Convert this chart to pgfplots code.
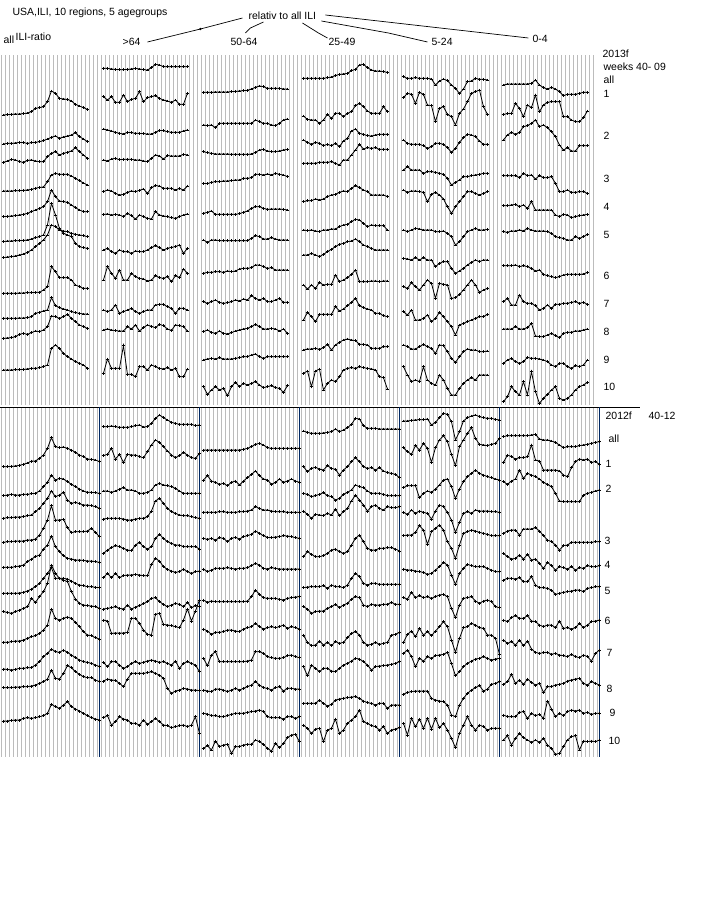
\documentclass[border=0pt]{standalone}
\usepackage{pgfplots}
\pgfplotsset{compat=1.18}
\usepackage{fontspec}
\setmainfont{Liberation Sans}
\definecolor{gridc}{RGB}{188,188,188}
\definecolor{sepc}{RGB}{0,40,100}
\newcommand\fs{\fontsize{10.5}{12}\selectfont}
\pgfplotsset{ser/.style={black, line width=0.8pt, mark=+, mark size=1.5pt, mark options={solid,line width=0.8pt}}}
\newcommand\ser[3]{\addplot[ser] table[header=false,row sep=\\,x expr={#1+4*\coordindex},y expr={#2+\thisrowno{0}/3}]{#3};}
\newcommand\lab[3]{\node[anchor=base west,inner sep=0pt,font=\fs] at (axis cs:#1,#2) {#3};}
\begin{document}
\begin{tikzpicture}
\begin{axis}[scale only axis, width=700bp, height=900bp, xmin=0, xmax=700, ymin=0, ymax=900, y dir=reverse, hide axis, clip=false]
\path (axis cs:0,0) rectangle (axis cs:700,900);
% grids
\pgfplotsinvokeforeach{1,5,...,593}{\addplot[gridc, line width=0.9pt] coordinates {(#1,55) (#1,405)};}
\pgfplotsinvokeforeach{1,5,...,597}{\addplot[gridc, line width=0.9pt] coordinates {(#1,408) (#1,757)};}
\addplot[black, line width=0.9pt] coordinates {(0,407) (640,407)};
\pgfplotsinvokeforeach{99,199,299,399,499,599}{\addplot[sepc, line width=0.9pt] coordinates {(#1,407) (#1,757)};}
% header
\lab{12}{15}{USA,ILI, 10 regions, 5 agegroups}
\lab{248}{19.3}{relativ to all ILI}
\lab{3}{43}{all}
\lab{15}{40}{ILI-ratio}
\lab{122}{45}{>64}
\lab{230}{45}{50-64}
\lab{328}{45}{25-49}
\lab{431}{45}{5-24}
\lab{532}{42.7}{0-4}
\addplot[black, line width=0.7pt, mark=*, mark size=0.8pt, mark indices={2}] coordinates {(242,18) (200,29) (147,42)};
\addplot[black, line width=0.7pt] coordinates {(263,22) (250,28) (245,33)};
\addplot[black, line width=0.7pt] coordinates {(302,23) (318,33) (327,38)};
\addplot[black, line width=0.7pt] coordinates {(325,15) (528,38)};
\addplot[black, line width=0.7pt] coordinates {(321,21) (388,33) (427,42)};
% right labels top
\lab{602}{57}{2013f}
\lab{603}{70.7}{weeks 40- 09}
\lab{603}{83}{all}
\lab{603}{97}{1}
\lab{603}{139}{2}
\lab{603}{182}{3}
\lab{603}{210}{4}
\lab{603}{238}{5}
\lab{603}{279}{6}
\lab{603}{307}{7}
\lab{603}{335}{8}
\lab{603}{363}{9}
\lab{603}{390}{10}
% right labels bottom
\lab{605}{419.3}{2012f}
\lab{648}{419.3}{40-12}
\lab{608}{442.7}{all}
\lab{605}{467}{1}
\lab{605}{492.7}{2}
\lab{604}{544}{3}
\lab{604}{568}{4}
\lab{604}{594}{5}
\lab{604}{624}{6}
\lab{606}{656}{7}
\lab{606}{692}{8}
\lab{609}{716}{9}
\lab{608}{744}{10}
% ================= TOP 2013f (offset 55) =================
% col all
\ser{3}{55}{180\\179\\178\\177\\177\\176\\174\\170\\160\\158\\155\\140\\108\\115\\130\\132\\133\\138\\148\\153\\158\\163\\}
\ser{3}{55}{267\\265\\265\\264\\262\\263\\265\\263\\262\\260\\257\\252\\247\\243\\250\\246\\243\\240\\233\\245\\252\\260\\}
\ser{3}{55}{322\\318\\313\\315\\320\\322\\316\\315\\318\\320\\320\\305\\295\\290\\300\\295\\292\\288\\278\\290\\300\\310\\}
\ser{3}{55}{408\\408\\408\\407\\407\\406\\405\\403\\400\\397\\396\\380\\360\\355\\358\\358\\358\\363\\370\\377\\384\\390\\}
\ser{3}{55}{485\\484\\483\\482\\480\\478\\475\\470\\465\\460\\455\\440\\405\\425\\438\\440\\442\\450\\458\\465\\470\\470\\}
\ser{3}{55}{560\\558\\558\\557\\557\\556\\555\\552\\548\\545\\540\\510\\445\\480\\520\\535\\540\\545\\565\\575\\578\\580\\}
\ser{3}{55}{608\\606\\605\\603\\600\\597\\592\\585\\575\\565\\555\\540\\510\\515\\525\\528\\530\\535\\538\\540\\542\\545\\}
\ser{3}{55}{715\\715\\715\\715\\714\\714\\713\\713\\712\\712\\705\\695\\635\\650\\668\\668\\668\\675\\690\\695\\700\\700\\}
\ser{3}{55}{790\\790\\790\\790\\789\\789\\788\\785\\775\\772\\768\\765\\728\\752\\758\\762\\765\\770\\773\\775\\777\\777\\}
\ser{3}{55}{850\\849\\848\\845\\838\\835\\838\\833\\828\\830\\825\\815\\783\\785\\790\\785\\778\\790\\800\\810\\815\\820\\}
\ser{3}{55}{945\\945\\945\\944\\944\\943\\942\\940\\940\\938\\935\\930\\880\\870\\880\\895\\905\\912\\920\\925\\930\\940\\}
% col >64
\ser{103}{55}{40\\40\\42\\43\\44\\44\\43\\42\\40\\42\\44\\45\\38\\28\\30\\35\\35\\35\\35\\35\\35\\35\\}
\ser{103}{55}{125\\135\\125\\142\\142\\120\\140\\133\\130\\110\\140\\128\\125\\122\\130\\135\\138\\142\\135\\148\\148\\115\\}
\ser{103}{55}{222\\225\\228\\232\\235\\237\\232\\233\\235\\235\\236\\237\\237\\232\\226\\227\\230\\232\\232\\232\\228\\225\\}
\ser{103}{55}{315\\318\\312\\310\\314\\313\\313\\313\\315\\315\\318\\320\\310\\300\\303\\312\\302\\303\\303\\303\\298\\300\\}
\ser{103}{55}{410\\405\\408\\415\\420\\418\\412\\408\\410\\406\\402\\415\\398\\392\\393\\400\\400\\400\\405\\400\\405\\393\\}
\ser{103}{55}{478\\477\\480\\478\\480\\485\\475\\482\\492\\480\\485\\490\\492\\470\\480\\483\\485\\488\\490\\485\\480\\477\\}
\ser{103}{55}{585\\580\\590\\595\\585\\590\\590\\595\\588\\590\\590\\585\\578\\572\\578\\585\\580\\577\\575\\570\\595\\580\\}
\ser{103}{55}{675\\635\\655\\670\\645\\675\\675\\655\\665\\670\\672\\678\\675\\662\\668\\670\\665\\680\\662\\668\\642\\655\\}
\ser{103}{55}{765\\770\\765\\750\\775\\770\\765\\760\\770\\775\\770\\765\\765\\750\\748\\748\\755\\760\\775\\760\\760\\765\\}
\ser{103}{55}{825\\822\\825\\827\\828\\828\\815\\822\\810\\828\\818\\810\\814\\818\\808\\812\\822\\826\\810\\812\\815\\828\\}
\ser{103}{55}{955\\912\\940\\940\\940\\872\\958\\958\\965\\935\\935\\945\\930\\935\\940\\942\\938\\945\\940\\965\\965\\942\\}
% col 50-64
\ser{203}{55}{112\\112\\112\\111\\111\\111\\111\\110\\109\\108\\107\\106\\102\\97\\93\\95\\100\\100\\100\\100\\102\\102\\}
\ser{203}{55}{210\\212\\210\\218\\205\\205\\205\\205\\205\\205\\205\\205\\205\\195\\200\\205\\205\\210\\212\\205\\195\\192\\}
\ser{203}{55}{290\\293\\295\\297\\297\\297\\297\\298\\298\\298\\298\\298\\297\\292\\285\\283\\288\\290\\290\\288\\285\\283\\}
\ser{203}{55}{385\\386\\382\\380\\380\\378\\378\\377\\375\\375\\370\\370\\368\\358\\358\\360\\357\\360\\355\\358\\360\\365\\}
\ser{203}{55}{475\\472\\468\\478\\478\\478\\478\\478\\478\\476\\472\\468\\460\\455\\455\\460\\463\\462\\462\\462\\463\\465\\}
\ser{203}{55}{555\\562\\555\\555\\557\\557\\557\\557\\557\\557\\557\\557\\550\\542\\545\\552\\552\\548\\552\\555\\555\\555\\}
\ser{203}{55}{655\\652\\652\\650\\650\\652\\648\\650\\648\\642\\640\\640\\638\\630\\630\\635\\640\\638\\645\\645\\645\\645\\}
\ser{203}{55}{740\\745\\740\\735\\742\\745\\743\\740\\735\\738\\732\\735\\722\\730\\735\\730\\740\\740\\735\\730\\742\\742\\}
\ser{203}{55}{830\\825\\832\\835\\828\\835\\837\\833\\828\\825\\822\\820\\815\\808\\815\\822\\822\\820\\822\\828\\822\\835\\}
\ser{203}{55}{915\\912\\910\\912\\908\\912\\912\\912\\910\\908\\905\\905\\900\\897\\905\\910\\905\\905\\905\\905\\905\\905\\}
\ser{203}{55}{995\\1018\\1005\\995\\1005\\1000\\1022\\995\\982\\995\\985\\990\\985\\980\\990\\998\\995\\992\\998\\1000\\1012\\992\\}
% col 25-49
\ser{303}{55}{70\\70\\70\\70\\70\\70\\68\\66\\62\\58\\57\\55\\47\\43\\30\\28\\38\\45\\48\\48\\50\\52\\}
\ser{303}{55}{183\\193\\195\\195\\205\\195\\178\\190\\175\\175\\185\\175\\170\\152\\145\\155\\168\\175\\175\\175\\155\\170\\}
\ser{303}{55}{255\\262\\268\\262\\265\\272\\268\\272\\265\\275\\258\\250\\228\\222\\235\\238\\242\\243\\240\\238\\238\\238\\}
\ser{303}{55}{325\\325\\325\\325\\322\\322\\322\\320\\325\\330\\315\\315\\300\\285\\268\\282\\278\\280\\278\\283\\283\\283\\}
\ser{303}{55}{440\\437\\437\\432\\435\\432\\425\\420\\418\\412\\408\\410\\400\\392\\398\\405\\410\\420\\420\\420\\420\\425\\}
\ser{303}{55}{525\\527\\525\\528\\530\\525\\525\\522\\522\\515\\510\\508\\500\\493\\495\\505\\515\\510\\512\\512\\512\\525\\}
\ser{303}{55}{600\\600\\595\\600\\605\\598\\590\\583\\575\\568\\565\\560\\558\\552\\560\\570\\575\\580\\585\\585\\585\\585\\}
\ser{303}{55}{690\\702\\690\\700\\682\\690\\688\\688\\660\\680\\675\\668\\658\\645\\680\\680\\680\\678\\678\\680\\678\\678\\}
\ser{303}{55}{795\\772\\785\\800\\778\\778\\778\\778\\755\\768\\762\\752\\742\\730\\752\\758\\762\\765\\775\\775\\782\\785\\}
\ser{303}{55}{885\\882\\882\\880\\883\\878\\868\\885\\870\\862\\855\\852\\855\\857\\868\\868\\870\\880\\880\\880\\875\\875\\}
\ser{303}{55}{955\\948\\995\\948\\942\\1005\\985\\975\\980\\965\\945\\940\\938\\940\\935\\938\\940\\942\\945\\965\\968\\1002\\}
% col 5-24
\ser{403}{55}{65\\70\\70\\68\\70\\70\\70\\72\\90\\78\\72\\77\\90\\100\\115\\102\\80\\78\\70\\73\\73\\75\\}
\ser{403}{55}{128\\115\\118\\145\\112\\118\\150\\152\\200\\160\\155\\178\\185\\210\\175\\162\\140\\115\\110\\105\\155\\178\\}
\ser{403}{55}{255\\265\\268\\268\\268\\272\\280\\275\\265\\265\\268\\278\\292\\280\\262\\248\\238\\240\\245\\258\\268\\268\\}
\ser{403}{55}{345\\335\\345\\345\\345\\355\\350\\350\\352\\355\\358\\370\\390\\382\\375\\365\\365\\362\\360\\358\\355\\355\\}
\ser{403}{55}{405\\412\\408\\408\\410\\412\\440\\418\\412\\420\\432\\455\\475\\455\\440\\425\\410\\410\\415\\420\\415\\410\\}
\ser{403}{55}{525\\530\\525\\520\\522\\525\\525\\525\\530\\530\\528\\535\\545\\570\\560\\545\\530\\525\\520\\525\\525\\523\\}
\ser{403}{55}{610\\612\\615\\608\\615\\608\\615\\615\\635\\625\\620\\620\\640\\655\\648\\640\\630\\622\\615\\620\\615\\615\\}
\ser{403}{55}{695\\700\\683\\695\\705\\690\\675\\685\\730\\685\\688\\690\\730\\728\\718\\705\\690\\675\\690\\712\\705\\700\\}
\ser{403}{55}{770\\780\\765\\795\\795\\790\\780\\800\\790\\772\\785\\800\\815\\840\\810\\805\\800\\795\\790\\785\\785\\778\\}
\ser{403}{55}{870\\875\\882\\882\\875\\868\\875\\880\\895\\870\\872\\890\\910\\922\\905\\890\\882\\885\\885\\890\\890\\888\\}
\ser{403}{55}{935\\960\\980\\975\\980\\935\\975\\985\\990\\960\\975\\1000\\1020\\1020\\1000\\985\\975\\968\\975\\960\\960\\960\\}
% col 0-4
\ser{503}{55}{90\\87\\87\\87\\87\\87\\87\\85\\75\\90\\98\\102\\97\\102\\110\\122\\118\\118\\118\\115\\112\\112\\}
\ser{503}{55}{178\\176\\175\\145\\160\\185\\150\\158\\120\\170\\150\\142\\140\\140\\140\\185\\185\\195\\200\\200\\188\\168\\}
\ser{503}{55}{255\\240\\232\\238\\232\\215\\212\\205\\195\\215\\210\\218\\230\\245\\270\\285\\278\\288\\288\\272\\272\\272\\}
\ser{503}{55}{362\\362\\362\\362\\368\\355\\362\\360\\372\\362\\368\\368\\365\\385\\410\\410\\405\\412\\412\\410\\410\\415\\}
\ser{503}{55}{452\\452\\450\\448\\455\\450\\460\\440\\465\\465\\465\\465\\465\\480\\485\\478\\480\\488\\485\\482\\480\\478\\}
\ser{503}{55}{530\\532\\528\\528\\525\\528\\520\\525\\528\\528\\528\\530\\535\\545\\548\\550\\555\\555\\545\\550\\545\\538\\}
\ser{503}{55}{632\\632\\632\\630\\635\\632\\635\\640\\648\\645\\658\\662\\665\\668\\665\\660\\658\\658\\658\\658\\657\\652\\}
\ser{503}{55}{740\\730\\750\\750\\720\\740\\745\\745\\752\\765\\760\\750\\760\\748\\748\\745\\745\\742\\740\\745\\742\\748\\}
\ser{503}{55}{822\\822\\822\\815\\822\\822\\818\\805\\843\\845\\845\\840\\835\\842\\848\\835\\832\\832\\828\\828\\825\\822\\}
\ser{503}{55}{925\\915\\910\\920\\925\\920\\907\\910\\910\\912\\915\\920\\930\\935\\925\\925\\935\\940\\932\\935\\930\\915\\}
\ser{503}{55}{1040\\1025\\995\\1010\\1020\\980\\1020\\950\\1010\\1045\\1030\\1018\\1005\\995\\1030\\1035\\1030\\1020\\1005\\995\\990\\982\\}
% ================= BOTTOM 2012f (offset 405) =================
% col all
\ser{3}{405}{185\\185\\184\\183\\181\\178\\174\\168\\168\\160\\150\\130\\98\\125\\128\\126\\130\\135\\142\\150\\155\\162\\163\\165\\170\\}
\ser{3}{405}{272\\270\\268\\270\\270\\268\\268\\266\\265\\258\\245\\232\\210\\225\\220\\222\\230\\238\\245\\252\\258\\262\\262\\263\\265\\}
\ser{3}{405}{340\\338\\338\\336\\336\\335\\332\\330\\320\\310\\295\\280\\258\\275\\270\\262\\285\\295\\292\\296\\300\\300\\302\\305\\310\\}
\ser{3}{405}{412\\410\\410\\408\\408\\408\\405\\405\\402\\390\\370\\345\\302\\345\\345\\343\\368\\383\\380\\380\\380\\378\\370\\382\\395\\}
\ser{3}{405}{487\\487\\487\\485\\483\\480\\470\\462\\455\\450\\432\\420\\393\\425\\440\\452\\460\\462\\465\\465\\466\\468\\468\\470\\472\\}
\ser{3}{405}{565\\565\\565\\565\\564\\562\\558\\552\\545\\535\\520\\505\\488\\520\\520\\520\\522\\528\\535\\540\\542\\545\\545\\547\\548\\}
\ser{3}{405}{620\\622\\625\\620\\615\\610\\605\\580\\592\\575\\560\\535\\480\\505\\520\\525\\530\\560\\582\\595\\600\\602\\603\\605\\610\\}
\ser{3}{405}{712\\712\\710\\708\\708\\705\\700\\695\\692\\685\\675\\660\\612\\640\\645\\640\\636\\640\\652\\665\\680\\690\\692\\698\\702\\}
\ser{3}{405}{792\\793\\795\\793\\790\\790\\788\\788\\780\\770\\755\\745\\732\\740\\742\\735\\742\\750\\758\\765\\770\\772\\775\\780\\785\\}
\ser{3}{405}{848\\848\\848\\846\\846\\845\\845\\843\\840\\835\\830\\822\\795\\820\\822\\805\\782\\788\\800\\808\\815\\818\\818\\825\\830\\}
\ser{3}{405}{948\\948\\946\\945\\945\\940\\938\\940\\938\\935\\932\\925\\898\\905\\910\\900\\890\\905\\912\\918\\925\\932\\938\\942\\945\\}
% col >64
\ser{103}{405}{65\\65\\63\\65\\67\\67\\67\\65\\62\\60\\66\\65\\55\\40\\30\\38\\45\\52\\55\\58\\58\\58\\58\\62\\60\\}
\ser{103}{405}{152\\148\\130\\162\\148\\172\\148\\150\\150\\155\\158\\140\\120\\105\\112\\125\\138\\150\\158\\152\\142\\150\\158\\160\\145\\}
\ser{103}{405}{258\\258\\262\\258\\252\\248\\255\\255\\258\\265\\265\\262\\255\\240\\235\\240\\242\\245\\250\\258\\265\\265\\265\\265\\265\\}
\ser{103}{405}{342\\340\\340\\340\\340\\342\\345\\345\\342\\340\\340\\335\\318\\288\\280\\295\\310\\320\\325\\330\\332\\332\\335\\338\\340\\}
\ser{103}{405}{445\\435\\428\\422\\425\\430\\435\\437\\420\\412\\425\\432\\425\\400\\388\\400\\410\\415\\420\\420\\425\\425\\425\\425\\432\\}
\ser{103}{405}{518\\505\\518\\505\\518\\512\\510\\510\\508\\510\\512\\512\\478\\460\\468\\485\\493\\498\\502\\500\\492\\500\\505\\500\\498\\}
\ser{103}{405}{612\\610\\608\\605\\610\\612\\600\\612\\606\\602\\596\\590\\580\\578\\590\\598\\605\\600\\595\\598\\605\\592\\608\\602\\605\\}
\ser{103}{405}{645\\648\\685\\684\\684\\684\\682\\640\\640\\655\\675\\688\\690\\628\\625\\658\\660\\662\\665\\668\\645\\612\\648\\618\\585\\}
\ser{103}{405}{772\\785\\770\\770\\780\\790\\785\\775\\770\\775\\772\\768\\765\\768\\772\\770\\775\\780\\768\\790\\775\\770\\775\\780\\800\\}
\ser{103}{405}{828\\822\\825\\826\\835\\845\\822\\805\\805\\805\\805\\803\\800\\805\\810\\820\\850\\865\\858\\855\\850\\852\\855\\855\\857\\}
\ser{103}{405}{938\\932\\960\\950\\935\\942\\945\\955\\955\\960\\945\\958\\950\\940\\950\\960\\962\\968\\965\\962\\960\\965\\960\\935\\985\\}
% col 50-64
\ser{203}{405}{135\\135\\135\\135\\135\\135\\135\\135\\135\\135\\133\\130\\125\\118\\115\\120\\128\\130\\130\\130\\130\\130\\130\\130\\130\\}
\ser{203}{405}{225\\212\\228\\232\\238\\235\\242\\232\\228\\240\\228\\218\\208\\198\\212\\222\\225\\238\\232\\222\\232\\228\\222\\228\\232\\}
\ser{203}{405}{322\\322\\322\\322\\320\\320\\322\\322\\322\\320\\320\\318\\315\\305\\310\\315\\315\\318\\320\\320\\320\\322\\322\\322\\322\\}
\ser{203}{405}{400\\403\\400\\405\\398\\400\\410\\400\\397\\402\\395\\392\\388\\378\\385\\392\\397\\398\\396\\395\\392\\393\\395\\398\\400\\}
\ser{203}{405}{492\\500\\495\\490\\490\\490\\488\\490\\492\\490\\490\\488\\482\\475\\480\\490\\492\\488\\490\\492\\492\\492\\492\\492\\492\\}
\ser{203}{405}{585\\592\\588\\590\\590\\590\\590\\590\\590\\590\\590\\588\\575\\555\\568\\578\\580\\580\\580\\583\\585\\580\\578\\576\\575\\}
\ser{203}{405}{672\\678\\688\\682\\682\\680\\675\\675\\678\\680\\672\\668\\665\\655\\665\\672\\668\\665\\668\\665\\660\\670\\665\\668\\672\\}
\ser{203}{405}{760\\782\\750\\740\\770\\770\\770\\770\\770\\770\\770\\768\\765\\740\\740\\745\\755\\758\\760\\760\\758\\752\\750\\755\\758\\}
\ser{203}{405}{855\\858\\860\\852\\852\\855\\860\\855\\850\\855\\850\\845\\840\\830\\840\\848\\850\\855\\848\\845\\858\\850\\850\\852\\852\\}
\ser{203}{405}{925\\927\\932\\932\\935\\935\\932\\928\\925\\925\\925\\922\\920\\918\\915\\920\\935\\938\\938\\938\\942\\935\\935\\940\\935\\}
\ser{203}{405}{1030\\1022\\1035\\1008\\1025\\1020\\1018\\1045\\1025\\1025\\1020\\1018\\1018\\1005\\1010\\1018\\1030\\1038\\1015\\1028\\1015\\998\\990\\988\\1010\\}
% col 25-49
\ser{303}{405}{78\\82\\85\\85\\85\\84\\82\\80\\72\\80\\75\\68\\58\\40\\42\\62\\70\\70\\70\\72\\72\\72\\72\\72\\72\\}
\ser{303}{405}{185\\200\\190\\187\\192\\195\\182\\190\\193\\210\\195\\185\\170\\158\\170\\185\\190\\188\\195\\188\\198\\203\\205\\208\\218\\}
\ser{303}{405}{265\\268\\275\\272\\268\\263\\272\\275\\285\\280\\268\\262\\255\\240\\245\\248\\258\\265\\265\\265\\268\\272\\272\\272\\272\\}
\ser{303}{405}{318\\328\\340\\328\\330\\332\\325\\330\\312\\332\\320\\310\\288\\270\\285\\300\\318\\305\\300\\310\\315\\305\\308\\308\\305\\}
\ser{303}{405}{455\\440\\448\\455\\455\\452\\445\\435\\432\\440\\445\\440\\420\\400\\390\\410\\430\\435\\435\\430\\430\\428\\428\\432\\438\\}
\ser{303}{405}{548\\546\\545\\545\\545\\542\\550\\540\\545\\545\\548\\540\\520\\505\\515\\535\\540\\535\\535\\538\\538\\538\\538\\538\\538\\}
\ser{303}{405}{605\\612\\625\\620\\618\\618\\610\\605\\598\\608\\600\\595\\582\\575\\578\\600\\605\\598\\600\\600\\598\\598\\592\\598\\598\\}
\ser{303}{405}{690\\712\\722\\720\\708\\720\\712\\722\\710\\715\\712\\698\\685\\680\\690\\712\\720\\718\\712\\718\\715\\712\\690\\688\\682\\}
\ser{303}{405}{785\\812\\780\\790\\800\\790\\790\\798\\800\\790\\780\\775\\768\\760\\762\\770\\780\\795\\785\\783\\782\\780\\778\\775\\770\\}
\ser{303}{405}{895\\895\\895\\895\\885\\895\\903\\898\\885\\882\\880\\878\\876\\875\\880\\888\\893\\895\\900\\895\\895\\910\\900\\900\\900\\}
\ser{303}{405}{960\\970\\985\\972\\970\\1010\\975\\970\\942\\985\\975\\955\\945\\935\\915\\950\\955\\962\\965\\975\\965\\985\\975\\972\\968\\}
% col 5-24
\ser{403}{405}{48\\48\\46\\45\\44\\44\\42\\60\\52\\38\\25\\28\\50\\105\\80\\48\\38\\33\\30\\35\\38\\40\\40\\43\\45\\}
\ser{403}{405}{128\\140\\148\\122\\135\\115\\130\\172\\128\\105\\92\\110\\148\\182\\125\\105\\85\\68\\100\\118\\120\\122\\118\\115\\100\\}
\ser{403}{405}{248\\242\\242\\242\\278\\265\\258\\262\\252\\240\\225\\222\\245\\280\\252\\230\\215\\205\\195\\205\\210\\215\\218\\222\\225\\}
\ser{403}{405}{322\\328\\315\\325\\318\\322\\325\\342\\318\\300\\305\\322\\345\\382\\352\\325\\320\\325\\315\\318\\318\\318\\320\\320\\322\\}
\ser{403}{405}{392\\390\\390\\382\\362\\375\\418\\380\\370\\360\\375\\410\\430\\460\\420\\385\\380\\375\\378\\382\\385\\388\\392\\392\\392\\}
\ser{403}{405}{492\\495\\495\\498\\500\\502\\508\\505\\495\\485\\472\\480\\510\\538\\505\\490\\478\\482\\485\\485\\485\\490\\495\\500\\500\\}
\ser{403}{405}{578\\582\\562\\578\\572\\578\\575\\580\\575\\570\\568\\575\\610\\638\\600\\580\\578\\575\\588\\595\\588\\585\\590\\605\\608\\}
\ser{403}{405}{712\\688\\678\\695\\670\\690\\680\\692\\678\\665\\650\\665\\705\\742\\700\\668\\665\\655\\660\\668\\670\\690\\690\\700\\748\\}
\ser{403}{405}{745\\735\\755\\785\\760\\768\\755\\760\\752\\750\\748\\742\\775\\812\\800\\785\\775\\768\\762\\760\\755\\760\\765\\762\\760\\}
\ser{403}{405}{868\\862\\860\\858\\858\\858\\858\\880\\885\\888\\890\\900\\930\\935\\900\\880\\865\\855\\848\\842\\858\\852\\838\\835\\830\\}
\ser{403}{405}{955\\990\\940\\965\\942\\970\\940\\972\\940\\968\\955\\975\\1000\\1028\\985\\960\\935\\960\\975\\960\\965\\975\\970\\970\\970\\}
% col 0-4
\ser{503}{405}{95\\92\\92\\92\\92\\92\\92\\90\\88\\102\\105\\105\\108\\112\\120\\128\\125\\125\\125\\122\\120\\118\\115\\112\\110\\}
\ser{503}{405}{172\\150\\155\\162\\158\\158\\155\\120\\165\\168\\195\\195\\195\\195\\198\\210\\215\\188\\170\\162\\165\\162\\172\\170\\178\\}
\ser{503}{405}{230\\238\\228\\222\\195\\220\\205\\210\\215\\222\\232\\238\\245\\265\\288\\290\\290\\290\\290\\290\\270\\265\\262\\258\\255\\}
\ser{503}{405}{385\\378\\375\\375\\390\\372\\372\\372\\368\\378\\392\\405\\410\\420\\435\\422\\420\\412\\412\\412\\412\\412\\412\\410\\410\\}
\ser{503}{405}{445\\455\\462\\460\\450\\462\\448\\465\\462\\475\\490\\472\\482\\495\\485\\488\\492\\485\\495\\488\\490\\482\\485\\485\\482\\}
\ser{503}{405}{525\\520\\520\\522\\518\\530\\530\\515\\540\\548\\548\\550\\555\\568\\565\\562\\560\\558\\555\\555\\560\\550\\548\\545\\545\\}
\ser{503}{405}{645\\650\\638\\632\\640\\640\\632\\648\\650\\660\\665\\660\\660\\668\\648\\670\\668\\672\\668\\655\\668\\660\\650\\648\\645\\}
\ser{503}{405}{705\\715\\710\\720\\705\\722\\708\\732\\742\\745\\743\\742\\748\\745\\750\\752\\755\\748\\755\\758\\750\\755\\768\\745\\735\\}
\ser{503}{405}{838\\830\\808\\835\\825\\838\\822\\832\\840\\835\\862\\845\\845\\840\\838\\835\\828\\825\\822\\820\\835\\840\\830\\835\\840\\}
\ser{503}{405}{930\\935\\935\\935\\922\\920\\940\\925\\932\\928\\940\\888\\912\\935\\925\\932\\920\\915\\918\\915\\925\\922\\928\\925\\925\\}
\ser{503}{405}{1005\\992\\1020\\1000\\985\\998\\1005\\1012\\1005\\1012\\1000\\1020\\1030\\1048\\1045\\1025\\1005\\995\\992\\1035\\1008\\1010\\1008\\1010\\1005\\}
\end{axis}
\end{tikzpicture}
\end{document}
